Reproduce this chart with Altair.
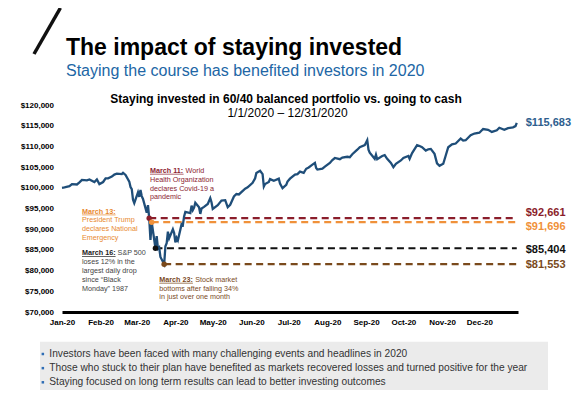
import altair as alt
import pandas as pd

FONT = "Liberation Sans"

# ---------------- data ----------------
dates = [
    "2020-01-01", "2020-01-03", "2020-01-07", "2020-01-09", "2020-01-13", "2020-01-15",
    "2020-01-17", "2020-01-21", "2020-01-23", "2020-01-27", "2020-01-29", "2020-01-31",
    "2020-02-03", "2020-02-05", "2020-02-07", "2020-02-10", "2020-02-12", "2020-02-14",
    "2020-02-18", "2020-02-19", "2020-02-21", "2020-02-24", "2020-02-25", "2020-02-26",
    "2020-02-27", "2020-02-28", "2020-03-02", "2020-03-03", "2020-03-04", "2020-03-05",
    "2020-03-06", "2020-03-09", "2020-03-10", "2020-03-11", "2020-03-12", "2020-03-13",
    "2020-03-16", "2020-03-17", "2020-03-18", "2020-03-19", "2020-03-20", "2020-03-23",
    "2020-03-24", "2020-03-25", "2020-03-26", "2020-03-27", "2020-03-30", "2020-03-31",
    "2020-04-01", "2020-04-02", "2020-04-03", "2020-04-06", "2020-04-07", "2020-04-08",
    "2020-04-09", "2020-04-13", "2020-04-14", "2020-04-15", "2020-04-16", "2020-04-17",
    "2020-04-20", "2020-04-21", "2020-04-22", "2020-04-24", "2020-04-27", "2020-04-29",
    "2020-04-30", "2020-05-01", "2020-05-05", "2020-05-08", "2020-05-11", "2020-05-13",
    "2020-05-15", "2020-05-18", "2020-05-20", "2020-05-22", "2020-05-27", "2020-05-29",
    "2020-06-02", "2020-06-04", "2020-06-05", "2020-06-08", "2020-06-10", "2020-06-11",
    "2020-06-12", "2020-06-15", "2020-06-16", "2020-06-19", "2020-06-23", "2020-06-24",
    "2020-06-26", "2020-06-29", "2020-06-30", "2020-07-02", "2020-07-06", "2020-07-08",
    "2020-07-10", "2020-07-13", "2020-07-15", "2020-07-17", "2020-07-20", "2020-07-22",
    "2020-07-23", "2020-07-24", "2020-07-28", "2020-07-30", "2020-08-03", "2020-08-05",
    "2020-08-07", "2020-08-11", "2020-08-13", "2020-08-17", "2020-08-19", "2020-08-21",
    "2020-08-25", "2020-08-27", "2020-08-31", "2020-09-02", "2020-09-03", "2020-09-04",
    "2020-09-08", "2020-09-09", "2020-09-10", "2020-09-14", "2020-09-16", "2020-09-18",
    "2020-09-21", "2020-09-23", "2020-09-25", "2020-09-29", "2020-10-01", "2020-10-05",
    "2020-10-06", "2020-10-08", "2020-10-12", "2020-10-14", "2020-10-16", "2020-10-19",
    "2020-10-21", "2020-10-23", "2020-10-26", "2020-10-28", "2020-10-30", "2020-11-02",
    "2020-11-04", "2020-11-06", "2020-11-09", "2020-11-12", "2020-11-16", "2020-11-18",
    "2020-11-20", "2020-11-24", "2020-11-27", "2020-12-01", "2020-12-04", "2020-12-08",
    "2020-12-11", "2020-12-15", "2020-12-17", "2020-12-21", "2020-12-24", "2020-12-28",
    "2020-12-30", "2020-12-31",
]
values = [
    100000, 100100, 100400, 100900, 100800, 101300,
    101900, 101800, 102000, 101400, 102000, 100900,
    101400, 102300, 102300, 102700, 103200, 103400,
    103300, 103600, 103100, 101500, 100200, 99700,
    97100, 96300, 98900, 97800, 99500, 98000,
    97300, 94000, 95800, 92661, 87400, 91696,
    85404, 88300, 85300, 85600, 83300, 81553,
    85900, 86600, 89400, 87800, 90000, 89100,
    86800, 87900, 87300, 91200, 91000, 93100,
    94200, 93900, 95700, 94600, 95200, 96400,
    95300, 93700, 95000, 95400, 96100, 97500,
    96500, 94900, 95800, 96900, 97000, 95300,
    95900, 97900, 98500, 98400, 99800, 100100,
    101200, 102300, 103600, 104100, 103300, 100300,
    100900, 101400, 102100, 101700, 102200, 101000,
    99900, 100700, 101500, 102200, 103200, 103300,
    103900, 103600, 104600, 104900, 105600, 106000,
    104800, 104400, 104600, 105100, 106000, 106700,
    107200, 106900, 107300, 107500, 107400, 108100,
    109200, 109800, 110300, 111500, 109200, 108500,
    107000, 108000, 106900, 107700, 107900, 107000,
    106000, 105000, 105800, 106600, 107200, 107700,
    107000, 108400, 110300, 110100, 109800, 109000,
    109300, 109400, 108200, 105900, 105300, 105800,
    107800, 109800, 110500, 110700, 111900, 111400,
    111500, 112700, 113100, 113300, 114200, 114000,
    113500, 113900, 114500, 114000, 114400, 114600,
    114900, 115683,
]

event_names = ["March 11", "March 13", "March 16", "March 23"]
event_dates = ["2020-03-11", "2020-03-13", "2020-03-16", "2020-03-23"]
event_values = [92661, 91696, 85404, 81553]
end_date = "2020-12-31"
final_value = 115683

y_ticks = list(range(70000, 120001, 5000))

title_text = "The impact of staying invested"
subtitle_text = "Staying the course has benefited investors in 2020"
chart_title = "Staying invested in 60/40 balanced portfolio vs. going to cash"
chart_dates = "1/1/2020 \u2013 12/31/2020"

note11_head, note11_first = "March 11:", "World"
note11_rest = ["Health Organization", "declares Covid-19 a", "pandemic"]
note13_head = "March 13:"
note13_rest = ["President Trump", "declares National", "Emergency"]
note16_head, note16_first = "March 16:", "S&P 500"
note16_rest = ["loses 12% in the", "largest daily drop", "since \u201cBlack", "Monday\u201d 1987"]
note23_head, note23_first = "March 23:", "Stock market"
note23_rest = ["bottoms after falling 34%", "in just over one month"]

bullets = [
    "Investors have been faced with many challenging events and headlines in 2020",
    "Those who stuck to their plan have benefited as markets recovered losses and turned positive for the year",
    "Staying focused on long term results can lead to better investing outcomes",
]

# ---------------- styles / layout ----------------
LINE_COLOR = "#1f4e79"
FINAL_COLOR = "#2e5e8e"
event_colors = ["#8b1e2b", "#f0913a", "#111111", "#7a4a1c"]
label_nudges = [-5, 4.5, 1.8, 0.8]
OX, OY = 62, 105  # page position of plot origin

series = pd.DataFrame({"date": dates, "value": values})
events = pd.DataFrame({"event": event_names, "date": event_dates,
                       "end": [end_date] * len(event_names), "value": event_values})
final = pd.DataFrame({"date": [end_date], "value": [final_value]})
anchor = pd.DataFrame({"a": [0]})

x_axis = alt.Axis(
    values=[alt.DateTime(year=2020, month=m, date=1, utc=True) for m in range(1, 13)],
    format="%b-%y", title=None, grid=False, ticks=False, tickSize=0,
    domainColor="#000000", domainWidth=3, labelFont=FONT, labelFontSize=8,
    labelFontWeight="bold", labelColor="#000000", labelPadding=6.5,
    labelAlign="center", labelOverlap=False,
)
y_axis = alt.Axis(
    values=y_ticks, format="$,.0f", title=None, grid=False, ticks=False, tickSize=0,
    domain=False, labelFont=FONT, labelFontSize=8, labelFontWeight="bold",
    labelColor="#000000", labelPadding=8.5,
)
x_scale = alt.Scale(type="utc", domain=[alt.DateTime(year=2020, month=1, date=1, utc=True),
                                        alt.DateTime(year=2021, month=1, date=1, utc=True)])
y_scale = alt.Scale(domain=[70000, 120000], nice=False, zero=False)


def X(field):
    return alt.X(f"{field}:T", scale=x_scale, axis=x_axis)


def Y(field="value"):
    return alt.Y(f"{field}:Q", scale=y_scale, axis=y_axis)


color_enc = alt.Color("event:N", scale=alt.Scale(domain=event_names, range=event_colors), legend=None)


def place(lines, px, py, color, size, weight="normal", lh=8.7, align="left", baseline="middle"):
    out = []
    for i, s in enumerate(lines):
        out.append(
            alt.Chart().mark_text(text=s, align=align, baseline=baseline, font=FONT,
                                  fontSize=size, fontWeight=weight, color=color)
            .encode(x=alt.value(px - OX), y=alt.value(py - OY + i * lh))
        )
    return out


def underline(px, py, w, color):
    return alt.Chart().mark_rule(color=color, strokeWidth=0.7).encode(
        x=alt.value(px - OX), x2=alt.value(px - OX + w), y=alt.value(py - OY))


layers = []

# decorations
layers.append(alt.Chart().mark_rule(color="#111111", strokeWidth=3.5).encode(
    x=alt.value(34 - OX), y=alt.value(54 - OY), x2=alt.value(60.4 - OX), y2=alt.value(8 - OY)))
layers.append(alt.Chart().mark_rect(color="#ebebeb").encode(
    x=alt.value(40 - OX), x2=alt.value(548 - OX), y=alt.value(341.7 - OY), y2=alt.value(395 - OY)))

# titles
layers += place([title_text], 66, 54.5, "#000000", 23, "bold", baseline="alphabetic")
layers += place([subtitle_text], 66, 76.3, "#2166a5", 16, baseline="alphabetic")
layers += place([chart_title], 286, 102.7, "#000000", 12, "bold", align="center", baseline="alphabetic")
layers += place([chart_dates], 287.5, 116.7, "#000000", 12, align="center", baseline="alphabetic")

# data marks
layers.append(alt.Chart(events).mark_rule(strokeDash=[7, 4.5], strokeWidth=2.2).encode(
    x=X("date"), x2="end:T", y=Y(), color=color_enc))
layers.append(alt.Chart(series).mark_line(color=LINE_COLOR, strokeWidth=2.3).encode(x=X("date"), y=Y()))
layers.append(alt.Chart(events).mark_circle(size=30, opacity=1).encode(x=X("date"), y=Y(), color=color_enc))

LBL = 11
LDX = 9
for name, col, dy in zip(event_names, event_colors, label_nudges):
    layers.append(
        alt.Chart(events).transform_filter(alt.datum.event == name)
        .mark_text(align="left", baseline="middle", dx=LDX, dy=dy, font=FONT, fontSize=LBL,
                   fontWeight="bold", color=col)
        .encode(x=X("end"), y=Y(), text=alt.Text("value:Q", format="$,.0f"))
    )
layers.append(
    alt.Chart(final).mark_text(align="left", baseline="middle", dx=LDX, font=FONT, fontSize=LBL,
                               fontWeight="bold", color=FINAL_COLOR)
    .encode(x=X("date"), y=Y(), text=alt.Text("value:Q", format="$,.0f"))
)

# annotations
NS = 7.2
HW = 33.6
c11 = "#8b2332"
layers += place([note11_head], 150, 171, c11, NS, "bold")
layers.append(underline(150, 174.2, HW, c11))
layers += place([note11_first], 185.6, 171, c11, NS)
layers += place(note11_rest, 150, 179.8, c11, NS, lh=8.8)

c13 = "#e8892f"
layers += place([note13_head], 82, 211.7, c13, NS, "bold")
layers.append(underline(82, 214.9, HW, c13))
layers += place(note13_rest, 82, 220.4, c13, NS, lh=8.7)

c16h, c16 = "#222222", "#444444"
layers += place([note16_head], 82, 253.3, c16h, NS, "bold")
layers.append(underline(82, 256.5, HW, c16h))
layers += place([note16_first], 117.6, 253.3, c16, NS)
layers += place(note16_rest, 82, 262.1, c16, NS, lh=8.8)

c23 = "#7a4a1c"
layers += place([note23_head], 159.3, 280, c23, NS, "bold")
layers.append(underline(159.3, 283.2, HW, c23))
layers += place([note23_first], 195.2, 280, c23, NS)
layers += place(note23_rest, 159.3, 288.6, c23, NS, lh=8.3)

# bottom bullets
for i, s in enumerate(bullets):
    yc = 354 + i * 14.15
    layers.append(alt.Chart().mark_rect(color="#2f6db5").encode(
        x=alt.value(41.6 - OX), x2=alt.value(44.1 - OX),
        y=alt.value(yc - 1.25 - OY), y2=alt.value(yc + 1.25 - OY)))
    layers += place([s], 49.3, yc, "#333333", 10.2)

chart = (
    alt.layer(*layers, data=anchor)
    .properties(
        width=456, height=207,
        padding={"left": 54, "top": 97, "right": 54, "bottom": 78},
        autosize=alt.AutoSizeParams(type="none"),
        background="white",
    )
    .configure(font=FONT)
    .configure_view(stroke=None)
)

chart.save("out.html", embed_options={"renderer": "svg", "actions": False})
